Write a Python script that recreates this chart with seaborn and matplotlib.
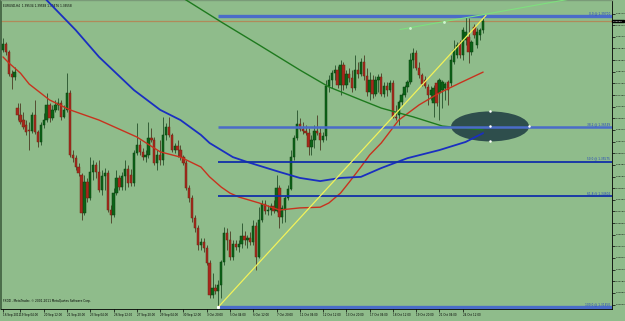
import numpy as np
import pandas as pd
import matplotlib
matplotlib.use("Agg")
import matplotlib.pyplot as plt
from matplotlib.patches import Ellipse
import seaborn as sns

# ---------------- data (EURUSD H4) ----------------
opens = [1.3874, 1.3891, 1.3868, 1.3806, 1.3797, 1.3709, 1.3689, 1.3675, 1.3661, 1.3647,
         1.3644, 1.3689, 1.3641, 1.3613, 1.3661, 1.3675, 1.3718, 1.3681, 1.3704, 1.3718,
         1.3723, 1.3684, 1.3704, 1.3752, 1.3576, 1.3567, 1.3542, 1.3519, 1.3412, 1.3499,
         1.3454, 1.3528, 1.3548, 1.3528, 1.3477, 1.3516, 1.3525, 1.3420, 1.3406, 1.3468,
         1.3511, 1.3485, 1.3516, 1.3536, 1.3519, 1.3497, 1.3582, 1.3604, 1.3585, 1.3570,
         1.3576, 1.3624, 1.3618, 1.3553, 1.3576, 1.3562, 1.3633, 1.3655, 1.3633, 1.3590,
         1.3602, 1.3590, 1.3570, 1.3553, 1.3482, 1.3454, 1.3398, 1.3369, 1.3321, 1.3329,
         1.3312, 1.3270, 1.3179, 1.3199, 1.3190, 1.3207, 1.3273, 1.3355, 1.3335, 1.3287,
         1.3324, 1.3315, 1.3324, 1.3346, 1.3335, 1.3341, 1.3329, 1.3375, 1.3287, 1.3392,
         1.3437, 1.3417, 1.3420, 1.3431, 1.3417, 1.3482, 1.3400, 1.3420, 1.3454, 1.3480,
         1.3570, 1.3624, 1.3664, 1.3650, 1.3644, 1.3638, 1.3599, 1.3618, 1.3644, 1.3638,
         1.3618, 1.3630, 1.3772, 1.3789, 1.3808, 1.3817, 1.3774, 1.3831, 1.3774, 1.3806,
         1.3794, 1.3766, 1.3817, 1.3806, 1.3840, 1.3800, 1.3755, 1.3789, 1.3749, 1.3789,
         1.3797, 1.3749, 1.3772, 1.3760, 1.3780, 1.3684, 1.3689, 1.3727, 1.3746, 1.3769,
         1.3783, 1.3845, 1.3864, 1.3823, 1.3803, 1.3789, 1.3769, 1.3746, 1.3723, 1.3780,
         1.3752, 1.3760, 1.3766, 1.3783, 1.3780, 1.3840, 1.3859, 1.3893, 1.3859, 1.3902,
         1.3910, 1.3868, 1.3939, 1.3888, 1.3916, 1.3930]
highs = [1.3908, 1.3896, 1.3874, 1.3817, 1.3825, 1.3723, 1.3723, 1.3698, 1.3675, 1.3670,
         1.3698, 1.3732, 1.3647, 1.3670, 1.3695, 1.3752, 1.3723, 1.3718, 1.3732, 1.3738,
         1.3732, 1.3718, 1.3808, 1.3760, 1.3590, 1.3576, 1.3553, 1.3525, 1.3519, 1.3511,
         1.3570, 1.3562, 1.3556, 1.3562, 1.3533, 1.3539, 1.3533, 1.3434, 1.3482, 1.3533,
         1.3519, 1.3528, 1.3562, 1.3548, 1.3536, 1.3590, 1.3667, 1.3618, 1.3596, 1.3590,
         1.3670, 1.3652, 1.3627, 1.3590, 1.3618, 1.3684, 1.3667, 1.3684, 1.3638, 1.3610,
         1.3618, 1.3604, 1.3576, 1.3562, 1.3491, 1.3463, 1.3406, 1.3377, 1.3341, 1.3341,
         1.3321, 1.3278, 1.3242, 1.3210, 1.3222, 1.3278, 1.3372, 1.3369, 1.3361, 1.3335,
         1.3335, 1.3335, 1.3383, 1.3361, 1.3349, 1.3358, 1.3392, 1.3386, 1.3428, 1.3448,
         1.3448, 1.3434, 1.3440, 1.3448, 1.3519, 1.3491, 1.3434, 1.3463, 1.3491, 1.3590,
         1.3633, 1.3704, 1.3681, 1.3670, 1.3661, 1.3652, 1.3633, 1.3661, 1.3689, 1.3652,
         1.3641, 1.3789, 1.3803, 1.3817, 1.3831, 1.3828, 1.3845, 1.3840, 1.3817, 1.3822,
         1.3817, 1.3860, 1.3840, 1.3851, 1.3860, 1.3822, 1.3811, 1.3803, 1.3800, 1.3806,
         1.3808, 1.3783, 1.3783, 1.3789, 1.3789, 1.3718, 1.3732, 1.3752, 1.3774, 1.3789,
         1.3864, 1.3879, 1.3874, 1.3840, 1.3808, 1.3800, 1.3777, 1.3772, 1.3774, 1.3789,
         1.3794, 1.3789, 1.3783, 1.3789, 1.3860, 1.3902, 1.3896, 1.3902, 1.3939, 1.3967,
         1.3964, 1.3902, 1.3947, 1.3936, 1.3936, 1.3970]
lows = [1.3868, 1.3859, 1.3800, 1.3763, 1.3789, 1.3675, 1.3664, 1.3650, 1.3633, 1.3590,
        1.3638, 1.3635, 1.3599, 1.3604, 1.3652, 1.3670, 1.3670, 1.3675, 1.3698, 1.3704,
        1.3675, 1.3681, 1.3698, 1.3570, 1.3556, 1.3533, 1.3516, 1.3392, 1.3406, 1.3443,
        1.3448, 1.3505, 1.3511, 1.3471, 1.3463, 1.3477, 1.3414, 1.3383, 1.3400, 1.3463,
        1.3477, 1.3477, 1.3477, 1.3485, 1.3488, 1.3488, 1.3576, 1.3576, 1.3562, 1.3556,
        1.3567, 1.3613, 1.3548, 1.3533, 1.3548, 1.3548, 1.3618, 1.3627, 1.3585, 1.3582,
        1.3570, 1.3562, 1.3548, 1.3477, 1.3443, 1.3386, 1.3358, 1.3307, 1.3307, 1.3301,
        1.3264, 1.3171, 1.3171, 1.3182, 1.3145, 1.3171, 1.3264, 1.3307, 1.3278, 1.3278,
        1.3307, 1.3301, 1.3312, 1.3321, 1.3312, 1.3321, 1.3321, 1.3250, 1.3284, 1.3386,
        1.3409, 1.3406, 1.3406, 1.3412, 1.3414, 1.3369, 1.3383, 1.3386, 1.3448, 1.3477,
        1.3562, 1.3618, 1.3644, 1.3635, 1.3633, 1.3576, 1.3576, 1.3596, 1.3633, 1.3590,
        1.3613, 1.3618, 1.3755, 1.3766, 1.3789, 1.3766, 1.3746, 1.3760, 1.3766, 1.3783,
        1.3755, 1.3760, 1.3794, 1.3800, 1.3789, 1.3743, 1.3732, 1.3738, 1.3743, 1.3755,
        1.3743, 1.3740, 1.3743, 1.3755, 1.3681, 1.3675, 1.3661, 1.3718, 1.3740, 1.3755,
        1.3777, 1.3823, 1.3817, 1.3794, 1.3772, 1.3766, 1.3718, 1.3732, 1.3684, 1.3715,
        1.3675, 1.3709, 1.3732, 1.3718, 1.3772, 1.3834, 1.3851, 1.3851, 1.3845, 1.3888,
        1.3837, 1.3859, 1.3908, 1.3879, 1.3902, 1.3922]
closes = [1.3891, 1.3868, 1.3806, 1.3797, 1.3811, 1.3689, 1.3670, 1.3655, 1.3641, 1.3644,
          1.3689, 1.3641, 1.3613, 1.3661, 1.3675, 1.3718, 1.3681, 1.3704, 1.3718, 1.3723,
          1.3684, 1.3704, 1.3752, 1.3576, 1.3567, 1.3542, 1.3525, 1.3412, 1.3499, 1.3454,
          1.3528, 1.3548, 1.3528, 1.3477, 1.3516, 1.3525, 1.3420, 1.3406, 1.3468, 1.3511,
          1.3485, 1.3516, 1.3536, 1.3497, 1.3497, 1.3582, 1.3604, 1.3585, 1.3570, 1.3576,
          1.3624, 1.3618, 1.3553, 1.3576, 1.3562, 1.3633, 1.3655, 1.3633, 1.3590, 1.3602,
          1.3590, 1.3570, 1.3553, 1.3482, 1.3454, 1.3398, 1.3369, 1.3321, 1.3329, 1.3312,
          1.3270, 1.3179, 1.3199, 1.3190, 1.3207, 1.3273, 1.3355, 1.3335, 1.3287, 1.3324,
          1.3315, 1.3324, 1.3346, 1.3335, 1.3341, 1.3329, 1.3375, 1.3287, 1.3392, 1.3437,
          1.3417, 1.3420, 1.3431, 1.3417, 1.3482, 1.3400, 1.3426, 1.3454, 1.3480, 1.3570,
          1.3624, 1.3664, 1.3650, 1.3644, 1.3638, 1.3599, 1.3618, 1.3644, 1.3638, 1.3618,
          1.3630, 1.3772, 1.3789, 1.3808, 1.3817, 1.3774, 1.3831, 1.3774, 1.3806, 1.3794,
          1.3766, 1.3817, 1.3806, 1.3840, 1.3800, 1.3755, 1.3789, 1.3749, 1.3789, 1.3797,
          1.3749, 1.3772, 1.3760, 1.3780, 1.3684, 1.3681, 1.3727, 1.3746, 1.3769, 1.3783,
          1.3845, 1.3864, 1.3823, 1.3803, 1.3777, 1.3772, 1.3746, 1.3760, 1.3766, 1.3723,
          1.3789, 1.3783, 1.3777, 1.3760, 1.3845, 1.3874, 1.3888, 1.3859, 1.3930, 1.3925,
          1.3868, 1.3896, 1.3916, 1.3925, 1.3930, 1.3956]

# moving averages (bar index, price)
red_ma_bar = [0, 2, 6, 9, 16, 23, 33, 46, 54, 61, 68, 71, 75, 78, 81, 88, 95, 102, 109,
              112, 116, 119, 123, 126, 130, 136, 143, 150, 157, 165]
red_ma = [1.3854, 1.3837, 1.3808, 1.3777, 1.3732, 1.3704, 1.3675, 1.3627, 1.3585, 1.3570,
          1.3542, 1.3514, 1.3485, 1.3468, 1.3457, 1.3440, 1.3420, 1.3426, 1.3428,
          1.3440, 1.3468, 1.3499, 1.3542, 1.3576, 1.3610, 1.3675, 1.3718, 1.3752, 1.3780, 1.3811]
blue_ma_bar = [0, 15, 25, 33, 45, 54, 61, 68, 71, 75, 79, 84, 95, 102, 109, 116, 123, 130,
               139, 150, 159, 165]
blue_ma = [1.4163, 1.4015, 1.3930, 1.3854, 1.3760, 1.3704, 1.3675, 1.3633, 1.3610, 1.3590,
           1.3570, 1.3556, 1.3528, 1.3511, 1.3502, 1.3511, 1.3514, 1.3539, 1.3567, 1.3590,
           1.3613, 1.3638]
green_ma_bar = [50, 63, 75, 88, 102, 112, 123, 130, 141, 151, 165]
green_ma = [1.4078, 1.4015, 1.3953, 1.3888, 1.3817, 1.3769, 1.3732, 1.3709, 1.3684, 1.3658, 1.3647]

# drawing objects
fib_levels = [0.0, 38.2, 50.0, 61.8, 100.0]
fib_prices = [1.39700, 1.36549, 1.35575, 1.34602, 1.31450]
fib_start_bar = 74
yellow_bars = [74, 166]
yellow_prices = [1.3145, 1.3972]
lgreen_bars = [140, 151.5]
lgreen_prices = [1.3937, 1.3954]
bid_price = 1.39558

x_tick_bars = [0, 6, 14, 22, 30, 38, 46, 54, 62, 70, 78, 86, 94, 102, 110, 118, 126, 134, 142, 150, 158]
x_tick_labels = ["16 Sep 2011", "19 Sep 04:00", "20 Sep 12:00", "21 Sep 20:00", "23 Sep 04:00",
                 "26 Sep 12:00", "27 Sep 20:00", "29 Sep 04:00", "30 Sep 12:00", "3 Oct 20:00",
                 "5 Oct 04:00", "6 Oct 12:00", "7 Oct 20:00", "11 Oct 04:00", "12 Oct 12:00",
                 "13 Oct 20:00", "17 Oct 04:00", "18 Oct 12:00", "19 Oct 20:00", "21 Oct 04:00",
                 "24 Oct 12:00"]
y_ticks = [1.39770, 1.39440, 1.39110, 1.38780, 1.38450, 1.38120, 1.37790, 1.37460, 1.37130,
           1.36800, 1.36470, 1.36140, 1.35810, 1.35480, 1.35150, 1.34820, 1.34490, 1.34160,
           1.33830, 1.33500, 1.33170, 1.32840, 1.32510, 1.32180, 1.31850, 1.31520]

# ---------------- style ----------------
BG = "#8FBC8B"
sns.set_style("ticks", {"axes.facecolor": BG, "figure.facecolor": BG})
plt.rcParams["font.family"] = ["DejaVu Sans"]
FS = 2.1      # general tiny caption size
FSY = 1.75    # price scale labels
FSX = 1.95    # time scale labels

fig = plt.figure(figsize=(6.25, 3.21), dpi=100)
fig.patch.set_facecolor(BG)
ax = fig.add_axes([1 / 625, 12 / 321, 611 / 625, 309 / 321])
ax.set_facecolor(BG)

df = pd.DataFrame({"o": opens, "h": highs, "l": lows, "c": closes})
df["bar"] = np.arange(len(df))
up = df["c"] >= df["o"]

# candles
ax.vlines(df["bar"], df["l"], df["h"], color=np.where(up, "#24502A", "#4A3A22"), lw=0.6, zorder=3)
body_bottom = np.minimum(df["o"], df["c"])
body_h = np.maximum((df["c"] - df["o"]).abs(), 0.00012)
ax.bar(df["bar"], body_h, bottom=body_bottom, width=0.8,
       color=np.where(up, "#0C6418", "#A8281C"),
       edgecolor=np.where(up, "#08400E", "#6A2A14"), lw=0.35, zorder=4)

# ellipse (under lines)
xl = (-0.69, 209.3)
ell = Ellipse((167.4, 1.3657), width=26.8, height=0.0085, facecolor="#2E4E4C", edgecolor="none", zorder=2)
ax.add_patch(ell)

# moving averages via seaborn
sns.lineplot(x=red_ma_bar, y=red_ma, ax=ax, color="#C8321E", lw=1.0, zorder=5)
sns.lineplot(x=blue_ma_bar, y=blue_ma, ax=ax, color="#1A2FC0", lw=1.3, zorder=5)
sns.lineplot(x=green_ma_bar, y=green_ma, ax=ax, color="#1E7A1E", lw=1.0, zorder=5)

# bid line
ax.axhline(bid_price, color="#B08A5A", lw=0.9, zorder=1)

# fibonacci levels
for lev, pr in zip(fib_levels, fib_prices):
    lw = 2.4 if lev in (0.0, 100.0) else (1.8 if lev == 38.2 else 1.3)
    col = "#4A6CC8" if lev in (0.0, 100.0, 38.2) else "#1230A8"
    ax.hlines(pr, fib_start_bar, xl[1], color=col, lw=lw, zorder=6)
    ax.text(xl[1] - 0.6, pr + 0.0002, f"{lev:.1f} @ {pr:.5f}", color="#2040C0",
            fontsize=FS, ha="right", va="bottom", zorder=7)

# yellow trendline
ax.plot(yellow_bars, yellow_prices, color="#F2F25A", lw=0.9, zorder=7)
ax.plot([yellow_bars[0]], [yellow_prices[0]], marker="s", ms=1.2, color="white", zorder=8)

# light green trendline (ray)
s = (lgreen_prices[1] - lgreen_prices[0]) / (lgreen_bars[1] - lgreen_bars[0])
x0, x1 = 136.4, xl[1]
ax.plot([x0, x1], [lgreen_prices[0] + s * (x0 - lgreen_bars[0]), lgreen_prices[0] + s * (x1 - lgreen_bars[0])],
        color="#7EE07E", lw=0.8, zorder=7)
ax.plot(lgreen_bars, lgreen_prices, ls="none", marker="o", ms=1.0, color="#CFF5CF", zorder=8)

# ellipse anchor points
ax.plot([167.4, 167.4, 167.4, 180.8], [1.3700, 1.3657, 1.3615, 1.3657], ls="none",
        marker="o", ms=0.8, color="white", zorder=8)

ax.set_xlim(*xl)
ax.set_ylim(1.31394, 1.40154)

# axes / ticks
ax.yaxis.tick_right()
ax.set_yticks(y_ticks)
ax.set_yticklabels([f"{v:.5f}" for v in y_ticks])
ax.set_xticks(x_tick_bars)
ax.set_xticklabels(x_tick_labels, ha="left")
ax.tick_params(axis="both", length=2, width=0.5, pad=1.0, colors="black")
ax.tick_params(axis="y", labelsize=FSY, pad=0.8)
ax.tick_params(axis="x", labelsize=FSX)
ax.set_xlabel("")
ax.set_ylabel("")
for side in ["left", "right", "bottom", "top"]:
    ax.spines[side].set_visible(True)
ax.spines["left"].set_color("#3F5F3F")
ax.spines["left"].set_linewidth(1.2)
ax.spines["right"].set_color("black")
ax.spines["right"].set_linewidth(0.6)
ax.spines["bottom"].set_color("black")
ax.spines["bottom"].set_linewidth(0.6)
ax.spines["top"].set_color("#7A9A78")
ax.spines["top"].set_linewidth(1.0)

# current price box on the price scale
ax.text(1.002, bid_price, f"{bid_price:.5f}", transform=ax.get_yaxis_transform(),
        fontsize=FSY, color="white", ha="left", va="center", zorder=10, clip_on=False,
        bbox=dict(boxstyle="square,pad=0.4", fc="black", ec="black"))

# captions
ax.text(0.004, 0.982, "EURUSD,H4  1.39534 1.39598 1.39476 1.39558", transform=ax.transAxes,
        fontsize=FS, color="black", ha="left", va="center")
ax.text(0.004, 0.025, "FXDD - MetaTrader, \u00a9 2001-2011 MetaQuotes Software Corp.",
        transform=ax.transAxes, fontsize=FS, color="black", ha="left", va="center")

fig.savefig("out.png", dpi=100, facecolor=BG)
